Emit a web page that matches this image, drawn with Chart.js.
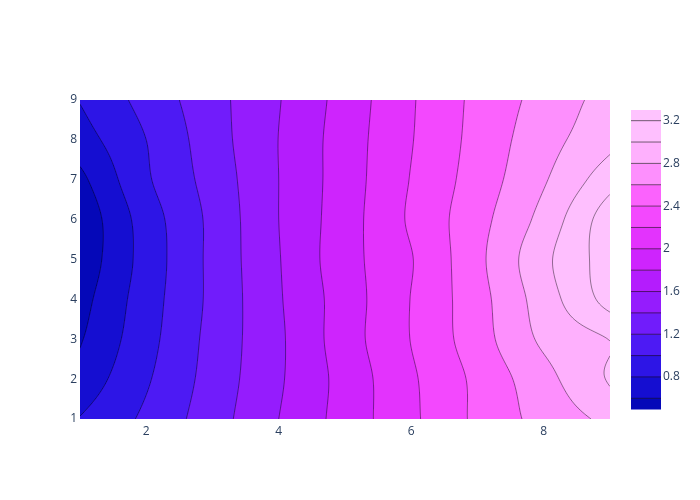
<!DOCTYPE html>
<html>
<head>
<meta charset="utf-8">
<script src="https://cdn.jsdelivr.net/npm/chart.js@4.4.1/dist/chart.umd.min.js"></script>
<style>
  body { margin: 0; background: #fff; }
</style>
</head>
<body>
<canvas id="chart" width="700" height="500"></canvas>
<script>
// grid
const xValues = [1, 2, 3, 4, 5, 6, 7, 8, 9];
const yValues = [1, 2, 3, 4, 5, 6, 7, 8, 9];

// z values, one row per y (bottom to top), one column per x
const zY1 = [0.81, 1.04, 1.31, 1.60, 1.88, 2.16, 2.44, 2.67, 2.85];
const zY2 = [0.673, 0.976, 1.279, 1.574, 1.873, 2.17, 2.448, 2.734, 3.02];
const zY3 = [0.583, 0.93, 1.263, 1.567, 1.905, 2.206, 2.51, 2.836, 3.005];
const zY4 = [0.525, 0.905, 1.247, 1.58, 1.898, 2.206, 2.525, 2.90, 3.28];
const zY5 = [0.46, 0.88, 1.25, 1.59, 1.92, 2.19, 2.55, 2.95, 3.31];
const zY6 = [0.449, 0.893, 1.25, 1.60, 1.91, 2.23, 2.53, 2.87, 3.32];
const zY7 = [0.548, 0.97, 1.28, 1.60, 1.90, 2.21, 2.49, 2.78, 3.12];
const zY8 = [0.71, 1.0, 1.31, 1.603, 1.897, 2.19, 2.465, 2.72, 2.945];
const zY9 = [0.81, 1.07, 1.33, 1.59, 1.88, 2.18, 2.45, 2.67, 2.88];
const zRows = [zY1, zY2, zY3, zY4, zY5, zY6, zY7, zY8, zY9];

// contour levels and ticks
const contourLevels = [0.6, 0.8, 1.0, 1.2, 1.4, 1.6, 1.8, 2.0, 2.2, 2.4, 2.6, 2.8, 3.0, 3.2];
const levelSize = 0.2;
const colorbarTicks = [0.8, 1.2, 1.6, 2, 2.4, 2.8, 3.2];
const xTicks = [2, 4, 6, 8];
const yTicks = [1, 2, 3, 4, 5, 6, 7, 8, 9];

// Plotly3 colorscale
const plotly3 = ['#0508b8', '#1910d8', '#3c19f0', '#6b1cfb', '#981cfd', '#bf1cfd',
                 '#dd2bfd', '#f246fe', '#fc67fd', '#fea5fd', '#febefe', '#fec3fe'];

const zMin = contourLevels[0] - levelSize / 2;
const zMax = contourLevels[contourLevels.length - 1] + levelSize / 2;

function hexToRgb(h) {
    return [parseInt(h.slice(1, 3), 16), parseInt(h.slice(3, 5), 16), parseInt(h.slice(5, 7), 16)];
}
const scaleRgb = plotly3.map(hexToRgb);

function colorAt(v) {
    let t = (v - zMin) / (zMax - zMin);
    t = Math.max(0, Math.min(1, t));
    const pos = t * (scaleRgb.length - 1);
    const i = Math.min(scaleRgb.length - 2, Math.floor(pos));
    const f = pos - i;
    const a = scaleRgb[i], b = scaleRgb[i + 1];
    return [0, 1, 2].map(k => Math.round(a[k] + (b[k] - a[k]) * f));
}

// band 0 is below the first level, band k is between level k-1 and level k
const bandColors = [];
for (let k = 0; k <= contourLevels.length; k++) {
    const mid = k === 0 ? contourLevels[0] - levelSize / 2 : contourLevels[k - 1] + levelSize / 2;
    bandColors.push(colorAt(mid));
}

function bandOf(z) {
    let k = 0;
    while (k < contourLevels.length && z >= contourLevels[k]) k++;
    return k;
}

// smooth interpolation (catmull-rom) so the lines look like plotly's smoothed ones
function cr(p0, p1, p2, p3, t) {
    const t2 = t * t, t3 = t2 * t;
    return 0.5 * (2 * p1 + (-p0 + p2) * t + (2 * p0 - 5 * p1 + 4 * p2 - p3) * t2 + (-p0 + 3 * p1 - 3 * p2 + p3) * t3);
}
function gridVal(j, i) {
    const ny = zRows.length, nx = zRows[0].length;
    if (j < 0) return 2 * gridVal(0, i) - gridVal(1, i);
    if (j > ny - 1) return 2 * gridVal(ny - 1, i) - gridVal(ny - 2, i);
    if (i < 0) return 2 * zRows[j][0] - zRows[j][1];
    if (i > nx - 1) return 2 * zRows[j][nx - 1] - zRows[j][nx - 2];
    return zRows[j][i];
}
function zAt(x, y) {
    const dx = xValues[1] - xValues[0], dy = yValues[1] - yValues[0];
    const fx = (x - xValues[0]) / dx, fy = (y - yValues[0]) / dy;
    const i = Math.max(0, Math.min(xValues.length - 2, Math.floor(fx)));
    const j = Math.max(0, Math.min(yValues.length - 2, Math.floor(fy)));
    const tx = fx - i, ty = fy - j;
    const r = [];
    for (let jj = j - 1; jj <= j + 2; jj++) {
        r.push(cr(gridVal(jj, i - 1), gridVal(jj, i), gridVal(jj, i + 1), gridVal(jj, i + 2), tx));
    }
    return cr(r[0], r[1], r[2], r[3], ty);
}

const contourPlugin = {
    id: 'contour',
    beforeDatasetsDraw(chart) {
        const { ctx, chartArea, scales } = chart;
        const xs = scales.x, ys = scales.y;
        const left = Math.round(chartArea.left), top = Math.round(chartArea.top);
        const w = Math.round(chartArea.right) - left, h = Math.round(chartArea.bottom) - top;

        // filled bands
        const img = ctx.createImageData(w, h);
        for (let py = 0; py < h; py++) {
            const yv = ys.getValueForPixel(top + py + 0.5);
            for (let px = 0; px < w; px++) {
                const xv = xs.getValueForPixel(left + px + 0.5);
                const c = bandColors[bandOf(zAt(xv, yv))];
                const o = (py * w + px) * 4;
                img.data[o] = c[0]; img.data[o + 1] = c[1]; img.data[o + 2] = c[2]; img.data[o + 3] = 255;
            }
        }
        ctx.putImageData(img, left, top);

        // contour lines, marching squares on a fine grid
        const step = 2;
        const nx = Math.ceil(w / step) + 1, ny = Math.ceil(h / step) + 1;
        const vals = [];
        for (let j = 0; j < ny; j++) {
            const row = [];
            const yv = ys.getValueForPixel(Math.min(top + j * step, top + h));
            for (let i = 0; i < nx; i++) {
                const xv = xs.getValueForPixel(Math.min(left + i * step, left + w));
                row.push(zAt(xv, yv));
            }
            vals.push(row);
        }
        const px = i => Math.min(left + i * step, left + w);
        const py = j => Math.min(top + j * step, top + h);

        ctx.save();
        ctx.beginPath();
        ctx.rect(left, top, w, h);
        ctx.clip();
        ctx.strokeStyle = 'rgba(0,0,0,0.85)';
        ctx.lineWidth = 0.5;
        contourLevels.forEach(L => {
            ctx.beginPath();
            for (let j = 0; j < ny - 1; j++) {
                for (let i = 0; i < nx - 1; i++) {
                    const a = vals[j][i], b = vals[j][i + 1], c = vals[j + 1][i + 1], d = vals[j + 1][i];
                    const pts = [];
                    const edge = (v1, v2, x1, y1, x2, y2) => {
                        if ((v1 < L) !== (v2 < L)) {
                            const t = (L - v1) / (v2 - v1);
                            pts.push([x1 + (x2 - x1) * t, y1 + (y2 - y1) * t]);
                        }
                    };
                    edge(a, b, px(i), py(j), px(i + 1), py(j));
                    edge(b, c, px(i + 1), py(j), px(i + 1), py(j + 1));
                    edge(c, d, px(i + 1), py(j + 1), px(i), py(j + 1));
                    edge(d, a, px(i), py(j + 1), px(i), py(j));
                    for (let k = 0; k + 1 < pts.length; k += 2) {
                        ctx.moveTo(pts[k][0], pts[k][1]);
                        ctx.lineTo(pts[k + 1][0], pts[k + 1][1]);
                    }
                }
            }
            ctx.stroke();
        });
        ctx.restore();
    },
    afterDraw(chart) {
        // colorbar
        const { ctx, chartArea } = chart;
        const barLeft = chartArea.right + 21, barW = 30;
        const barTop = chartArea.top + 10, barBottom = chartArea.bottom - 10;
        const toY = v => barBottom - (v - zMin) / (zMax - zMin) * (barBottom - barTop);
        const edges = [zMin, ...contourLevels, zMax];
        for (let k = 0; k < edges.length - 1; k++) {
            const c = bandColors[k];
            ctx.fillStyle = `rgb(${c[0]},${c[1]},${c[2]})`;
            const y1 = toY(edges[k + 1]), y2 = toY(edges[k]);
            ctx.fillRect(barLeft, y1, barW, y2 - y1 + 0.5);
        }
        ctx.strokeStyle = 'rgba(0,0,0,0.7)';
        ctx.lineWidth = 0.8;
        contourLevels.forEach(L => {
            const y = toY(L);
            ctx.beginPath();
            ctx.moveTo(barLeft, y);
            ctx.lineTo(barLeft + barW, y);
            ctx.stroke();
        });
        ctx.fillStyle = '#2a3f5f';
        ctx.font = "12px 'Open Sans', sans-serif";
        ctx.textAlign = 'left';
        ctx.textBaseline = 'middle';
        colorbarTicks.forEach(v => {
            ctx.fillText(String(v), barLeft + barW + 2, toY(v));
        });
    }
};

const gridPoints = [];
yValues.forEach((y, j) => xValues.forEach((x, i) => gridPoints.push({ x: x, y: y, z: zRows[j][i] })));

Chart.defaults.font.family = "'Open Sans', sans-serif";
Chart.defaults.font.size = 12;
Chart.defaults.color = '#2a3f5f';

new Chart(document.getElementById('chart'), {
    type: 'scatter',
    data: {
        datasets: [{
            data: gridPoints,
            pointRadius: 0,
            showLine: false
        }]
    },
    options: {
        responsive: false,
        animation: false,
        layout: { padding: { top: 100, right: 90, left: 0, bottom: 0 } },
        plugins: { legend: { display: false }, tooltip: { enabled: false } },
        scales: {
            x: {
                type: 'linear', min: 1, max: 9,
                grid: { display: false, drawTicks: false },
                border: { display: false },
                ticks: { padding: 5 },
                afterBuildTicks: s => { s.ticks = xTicks.map(v => ({ value: v })); },
                afterFit: s => { s.height = 81; }
            },
            y: {
                type: 'linear', min: 1, max: 9,
                grid: { display: false, drawTicks: false },
                border: { display: false },
                ticks: { padding: 3 },
                afterBuildTicks: s => { s.ticks = yTicks.map(v => ({ value: v })); },
                afterFit: s => { s.width = 80; }
            }
        }
    },
    plugins: [contourPlugin]
});
</script>
</body>
</html>
